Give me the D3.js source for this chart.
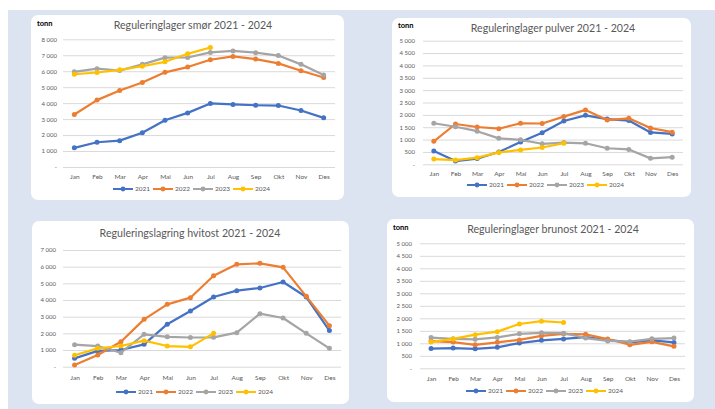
<!DOCTYPE html>
<html><head><meta charset="utf-8">
<script src="https://cdn.jsdelivr.net/npm/d3@7"></script>
<style>
html,body{margin:0;padding:0;background:#fff;}
svg{display:block;}
text{font-family:Lato,"Open Sans",sans-serif;}
</style></head>
<body>
<svg id="chart" width="715" height="409"></svg>
<script>
const months = ["Jan","Feb","Mar","Apr","Mai","Jun","Jul","Aug","Sep","Okt","Nov","Des"];
const years = ["2021","2022","2023","2024"];
const colors = ["#4472C4","#ED7D31","#A5A5A5","#FFC000"];

// Smør
const smor2021 = [1200,1550,1650,2150,2930,3390,3980,3920,3870,3850,3540,3080];
const smor2022 = [3290,4190,4790,5290,5930,6260,6720,6930,6760,6490,6030,5610];
const smor2023 = [5960,6160,6040,6430,6850,6860,7180,7270,7160,6980,6430,5760];
const smor2024 = [5810,5920,6090,6310,6590,7090,7490];
const smorTicks = [0,1000,2000,3000,4000,5000,6000,7000,8000];

// Pulver
const pulver2021 = [540,130,230,500,900,1280,1750,1980,1830,1770,1290,1230];
const pulver2022 = [930,1630,1510,1440,1660,1650,1930,2200,1790,1860,1470,1300];
const pulver2023 = [1660,1520,1340,1050,990,830,880,850,650,600,240,290];
const pulver2024 = [210,170,270,480,580,680,850];
const pulverTicks = [0,500,1000,1500,2000,2500,3000,3500,4000,4500,5000];

// Hvitost
const hvitost2021 = [500,950,1000,1340,2550,3340,4180,4560,4720,5080,4180,2170];
const hvitost2022 = [100,700,1500,2840,3740,4140,5460,6140,6200,5960,4220,2460];
const hvitost2023 = [1320,1240,840,1940,1790,1750,1760,2040,3180,2920,2000,1100];
const hvitost2024 = [690,1100,1240,1560,1240,1190,2000];
const hvitostTicks = [0,1000,2000,3000,4000,5000,6000,7000];

// Brunost
const brunost2021 = [790,810,780,840,1010,1120,1175,1245,1135,1040,1115,1035];
const brunost2022 = [1090,1050,940,1040,1135,1300,1380,1360,1170,940,1060,880];
const brunost2023 = [1230,1180,1160,1235,1380,1420,1405,1210,1095,1067,1180,1210];
const brunost2024 = [1050,1175,1347,1467,1773,1885,1832];
const brunostTicks = [0,500,1000,1500,2000,2500,3000,3500,4000,4500,5000];

const locale = d3.formatLocale({thousands:"\u00a0", grouping:[3], decimal:",", currency:["",""]});
const fmt = v => v === 0 ? "-" : locale.format(",")(v);

const svg = d3.select("#chart");
svg.append("rect").attr("x",0).attr("y",0).attr("width",715).attr("height",409).attr("fill","#ffffff");
svg.append("rect").attr("x",8).attr("y",10).attr("width",707).attr("height",399).attr("fill","#dce3f1");

const panels = [
  {title:"Reguleringlager smør 2021 - 2024", series:[smor2021,smor2022,smor2023,smor2024], ticks:smorTicks,
   box:[31,15,313,185], plotX:[63,335], plotY:[167,39.3], tickX:57, tonn:[37,24], titleXY:[193,26], xLabY:176, legY:189, legX:113},
  {title:"Reguleringlager pulver 2021 - 2024", series:[pulver2021,pulver2022,pulver2023,pulver2024], ticks:pulverTicks,
   box:[392,18,299,179], plotX:[423,683], plotY:[164.3,40.7], tickX:415, tonn:[398,26], titleXY:[553,29], xLabY:173, legY:185, legX:467},
  {title:"Reguleringslagring hvitost 2021 - 2024", series:[hvitost2021,hvitost2022,hvitost2023,hvitost2024], ticks:hvitostTicks,
   box:[32,221,317,183], plotX:[63,341], plotY:[366.7,250], tickX:56, tonn:null, titleXY:[190,234], xLabY:377, legY:392, legX:116},
  {title:"Reguleringlager brunost 2021 - 2024", series:[brunost2021,brunost2022,brunost2023,brunost2024], ticks:brunostTicks,
   box:[387,219,307,183], plotX:[420,685], plotY:[368.3,243.3], tickX:412, tonn:[393,228], titleXY:[553,230], xLabY:378, legY:391, legX:466}
];

panels.forEach(p => {
  const g = svg.append("g");
  g.append("rect").attr("x",p.box[0]).attr("y",p.box[1]).attr("width",p.box[2]).attr("height",p.box[3])
    .attr("rx",7).attr("fill","#ffffff");
  const x = d3.scalePoint().domain(months).range(p.plotX).padding(0.5);
  const y = d3.scaleLinear().domain([0, d3.max(p.ticks)]).range(p.plotY);

  const yAxis = d3.axisLeft(y).tickValues(p.ticks).tickFormat(fmt).tickSize(-(p.plotX[1]-p.plotX[0])).tickPadding(p.plotX[0]-p.tickX);
  const ga = g.append("g").attr("transform",`translate(${p.plotX[0]},0)`).call(yAxis);
  ga.select(".domain").remove();
  ga.selectAll(".tick line").attr("stroke","#d9d9d9").attr("stroke-width",1);
  ga.selectAll(".tick text").attr("fill","#595959").style("font-size","6px").style("font-family","Lato,sans-serif");

  const xAxis = d3.axisBottom(x).tickSize(0).tickPadding(p.xLabY - p.plotY[0] - 2);
  const gx = g.append("g").attr("transform",`translate(0,${p.plotY[0]})`).call(xAxis);
  gx.select(".domain").remove();
  gx.selectAll(".tick text").attr("fill","#595959").style("font-size","6.5px").style("font-family","Lato,sans-serif");

  g.append("text").attr("x",p.titleXY[0]).attr("y",p.titleXY[1]).attr("text-anchor","middle")
    .attr("dominant-baseline","middle").attr("fill","#595959").style("font-size","10.6px").text(p.title);
  if (p.tonn) {
    g.append("text").attr("x",p.tonn[0]).attr("y",p.tonn[1]).attr("dominant-baseline","middle")
      .attr("fill","#000").style("font-size","7.5px").style("font-weight","bold").text("tonn");
  }

  const line = d3.line().x((d,i)=>x(months[i])).y(d=>y(d));
  p.series.forEach((s,k) => {
    g.append("path").datum(s).attr("d",line).attr("fill","none").attr("stroke",colors[k])
      .attr("stroke-width",2.2).attr("stroke-linejoin","round").attr("stroke-linecap","round");
    g.selectAll(null).data(s).enter().append("circle")
      .attr("cx",(d,i)=>x(months[i])).attr("cy",d=>y(d)).attr("r",2.5).attr("fill",colors[k]);
  });

  const lg = g.append("g").attr("transform",`translate(${p.legX},${p.legY})`);
  years.forEach((yr,k) => {
    const ox = k*40;
    lg.append("line").attr("x1",ox).attr("x2",ox+20).attr("y1",0).attr("y2",0).attr("stroke",colors[k]).attr("stroke-width",2);
    lg.append("circle").attr("cx",ox+10).attr("cy",0).attr("r",2.4).attr("fill",colors[k]);
    lg.append("text").attr("x",ox+22).attr("y",0).attr("dominant-baseline","middle").attr("fill","#595959")
      .style("font-size","6.5px").text(yr);
  });
});
</script>
</body></html>
